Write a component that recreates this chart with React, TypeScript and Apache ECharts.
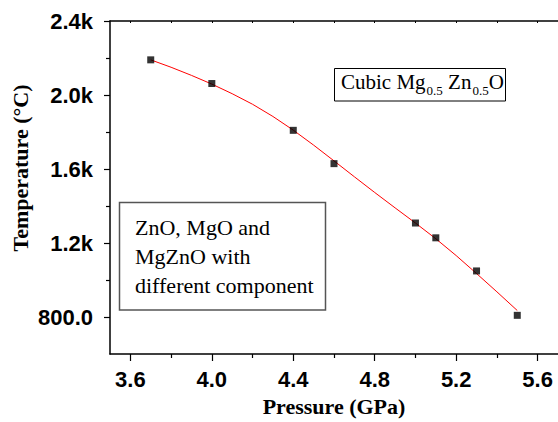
import React, { useEffect, useRef } from "react";
import * as echarts from "echarts";

// Measured points (Pressure in GPa, Temperature in °C)
const pressure = [3.7, 4.0, 4.4, 4.6, 5.0, 5.1, 5.3, 5.5];
const temperature = [2190, 2062, 1809, 1629, 1308, 1228, 1049, 809];

// Fitted curve
const fitPressure = [3.7, 3.8, 3.9, 4.0, 4.1, 4.2, 4.3, 4.4, 4.5, 4.6, 4.7, 4.8, 4.9, 5.0, 5.1, 5.2, 5.3, 5.4, 5.5];
const fitTemperature = [2190, 2150, 2106, 2059, 2007, 1950, 1884, 1810, 1729, 1644, 1558, 1473, 1390, 1308, 1223, 1132, 1035, 936, 835];

// Ticks
const xMajor = [3.6, 4.0, 4.4, 4.8, 5.2, 5.6];
const xMinor = [3.8, 4.2, 4.6, 5.0, 5.4];
const xTop = [3.6, 3.8, 4.0, 4.2, 4.4, 4.6, 4.8, 5.0, 5.2, 5.4, 5.6];
const yMajor = [800, 1200, 1600, 2000, 2400];
const yMajorLabels = ["800.0", "1.2k", "1.6k", "2.0k", "2.4k"];
const yMinor = [1000, 1400, 1800, 2200];

const xTitle = "Pressure (GPa)";
const yTitle = "Temperature (°C)";
const boxLines = ["ZnO, MgO and", "MgZnO with", "different component"];

const SANS = "Liberation Sans, Arial, sans-serif";
const SERIF = "Liberation Serif, Times New Roman, serif";

export default function App() {
  const ref = useRef<HTMLDivElement>(null);

  useEffect(() => {
    document.body.style.margin = "0";
    if (!ref.current) return;
    const chart = echarts.init(ref.current, undefined, { renderer: "svg" });

    const axisLine = { show: true, lineStyle: { color: "#000", width: 1.5 } };
    const tickStyle = { color: "#000", width: 1.2 };

    const option: any = {
      animation: false,
      backgroundColor: "#fff",
      grid: { left: 110, right: -2, top: 21, bottom: 66, containLabel: false },
      xAxis: [
        {
          type: "value",
          min: 3.5,
          max: 5.7,
          position: "bottom",
          axisLine,
          splitLine: { show: false },
          axisTick: { show: true, customValues: xMajor, length: 7, lineStyle: tickStyle },
          axisLabel: {
            show: true,
            customValues: xMajor,
            formatter: (v: number) => v.toFixed(1),
            fontFamily: SANS,
            fontWeight: "bold",
            fontSize: 22,
            color: "#000",
            margin: 14,
          },
          name: xTitle,
          nameLocation: "middle",
          nameGap: 41,
          nameTextStyle: { fontFamily: SERIF, fontWeight: "bold", fontSize: 22, color: "#000" },
        },
        {
          type: "value",
          min: 3.5,
          max: 5.7,
          position: "bottom",
          axisLine: { show: false },
          splitLine: { show: false },
          axisTick: { show: true, customValues: xMinor, length: 4, lineStyle: tickStyle },
          axisLabel: { show: false },
        },
        {
          type: "value",
          min: 3.5,
          max: 5.7,
          position: "top",
          axisLine,
          splitLine: { show: false },
          axisTick: { show: true, inside: true, customValues: xTop, length: 2, lineStyle: { color: "#000", width: 1 } },
          axisLabel: { show: false },
        },
      ],
      yAxis: [
        {
          type: "value",
          min: 600,
          max: 2400,
          position: "left",
          axisLine,
          splitLine: { show: false },
          axisTick: { show: true, customValues: yMajor, length: 6, lineStyle: tickStyle },
          axisLabel: {
            show: true,
            customValues: yMajor,
            formatter: (v: number) => {
              const i = yMajor.indexOf(v);
              return i >= 0 ? yMajorLabels[i] : "";
            },
            fontFamily: SANS,
            fontWeight: "bold",
            fontSize: 22,
            color: "#000",
            margin: 17,
          },
        },
        {
          type: "value",
          min: 600,
          max: 2400,
          position: "left",
          axisLine: { show: false },
          splitLine: { show: false },
          axisTick: { show: true, customValues: yMinor, length: 4, lineStyle: tickStyle },
          axisLabel: { show: false },
        },
      ],
      series: [
        {
          type: "line",
          xAxisIndex: 0,
          yAxisIndex: 0,
          data: fitPressure.map((p, i) => [p, fitTemperature[i]]),
          showSymbol: false,
          symbol: "none",
          smooth: false,
          lineStyle: { color: "#ff0000", width: 1 },
          z: 2,
        },
        {
          type: "scatter",
          xAxisIndex: 0,
          yAxisIndex: 0,
          data: pressure.map((p, i) => [p, temperature[i]]),
          symbol: "rect",
          symbolSize: 7,
          itemStyle: { color: "#000" },
          z: 3,
        },
      ],
      graphic: [
        {
          type: "rect",
          shape: { x: 334.5, y: 68.5, width: 171, height: 32.5 },
          style: { fill: "#fff", stroke: "#000", lineWidth: 1 },
          z: 10,
        },
        {
          type: "text",
          x: 341,
          y: 67,
          z: 11,
          style: {
            text: "{m|Cubic Mg}{s|0.5}{m| Zn}{s|0.5}{m|O}",
            textVerticalAlign: "top",
            textAlign: "left",
            rich: {
              m: { fontFamily: SERIF, fontSize: 21, lineHeight: 30, fill: "#000" },
              s: { fontFamily: SERIF, fontSize: 13, lineHeight: 13, padding: [16, 0, 0, 1], fill: "#000" },
            },
          },
        },
        {
          type: "rect",
          shape: { x: 119.5, y: 202.5, width: 206, height: 107.5 },
          style: { fill: "#fff", stroke: "#555", lineWidth: 1.5 },
          z: 10,
        },
        {
          type: "text",
          x: 135,
          y: 213,
          z: 11,
          style: {
            text: boxLines.join("\n"),
            fontFamily: SERIF,
            fontSize: 22,
            lineHeight: 29,
            fill: "#000",
            textAlign: "left",
            textVerticalAlign: "top",
          },
        },
        {
          type: "text",
          x: 20,
          y: 168,
          rotation: Math.PI / 2,
          z: 11,
          style: {
            text: yTitle,
            fontFamily: SERIF,
            fontWeight: "bold",
            fontSize: 22,
            fill: "#000",
            textAlign: "center",
            textVerticalAlign: "middle",
          },
        },
      ],
    };

    chart.setOption(option);
    return () => chart.dispose();
  }, []);

  return <div ref={ref} style={{ width: 558, height: 422, overflow: "hidden" }} />;
}
